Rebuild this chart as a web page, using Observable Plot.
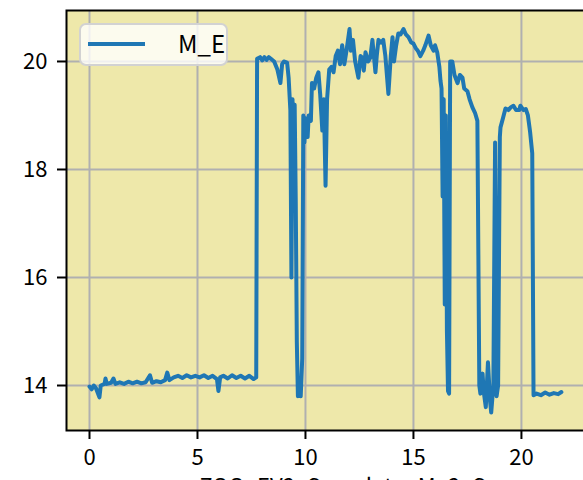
<!DOCTYPE html>
<html><head><meta charset="utf-8">
<script src="https://cdn.jsdelivr.net/npm/d3@7"></script>
<script src="https://cdn.jsdelivr.net/npm/@observablehq/plot@0.6"></script>
<style>
html,body{margin:0;padding:0;overflow:hidden;background:#fff;}
#wrap{position:relative;width:583px;height:480px;overflow:hidden;}
#wrap svg{position:absolute;left:0;top:0;max-width:none !important;}
#legend{position:absolute;left:79px;top:23px;width:149px;height:43px;box-sizing:border-box;border:2px solid #d2d2d2;border-radius:7px;background:rgba(255,255,255,0.8);}
#legend .ln{position:absolute;left:7px;top:17px;width:57px;height:3.5px;background:#1f77b4;}
#legend .tx{position:absolute;left:97px;top:4px;font-family:"Noto Sans CJK JP",sans-serif;font-size:24px;line-height:28px;color:#000;}
</style></head>
<body><div id="wrap"></div>
<script>
const xs = [0.00,0.10,0.20,0.30,0.46,0.52,0.70,0.74,0.80,1.00,1.11,1.20,1.40,1.60,1.80,2.00,2.20,2.40,2.60,2.80,2.90,3.10,3.30,3.50,3.60,3.70,3.90,4.10,4.30,4.50,4.70,4.90,5.10,5.30,5.50,5.70,5.90,5.97,6.05,6.20,6.40,6.60,6.80,7.00,7.20,7.40,7.60,7.72,
7.76,7.90,8.00,8.10,8.20,8.30,8.40,8.55,8.70,8.84,8.92,9.00,9.15,9.22,9.30,9.35,9.40,9.45,9.50,9.55,9.60,9.65,9.72,9.78,9.85,9.90,9.95,10.00,10.10,10.15,10.25,10.30,10.40,10.50,10.60,10.68,10.78,10.85,10.93,11.00,11.10,11.20,11.30,11.40,11.50,11.60,11.70,11.80,11.90,12.04,12.10,12.20,12.30,12.45,12.55,12.64,12.70,12.78,12.90,13.00,13.10,13.17,13.24,13.30,13.38,13.50,13.60,13.70,13.84,13.95,14.03,14.10,14.20,14.30,14.40,14.54,14.65,14.77,14.90,15.00,15.10,15.20,15.32,15.45,15.55,15.70,15.80,15.93,16.00,16.10,16.20,16.25,16.30,16.35,16.40,16.45,16.50,16.55,16.60,16.65,16.70,16.80,16.90,17.04,17.15,17.27,17.35,17.50,17.60,17.73,17.85,17.96,18.05,18.10,18.20,18.25,18.35,18.45,18.55,18.60,18.70,18.78,18.85,18.92,19.00,19.03,19.15,19.26,19.40,19.50,19.63,19.75,19.90,19.95,20.10,20.20,20.30,20.40,20.50,20.56,20.70,20.90,21.10,21.30,21.50,21.70,21.85];
const ys = [13.98,13.93,14.00,13.95,13.78,14.00,14.03,14.13,14.03,14.05,14.13,14.03,14.06,14.03,14.07,14.04,14.07,14.04,14.06,14.19,14.05,14.08,14.06,14.10,14.24,14.10,14.15,14.18,14.14,14.19,14.15,14.18,14.15,14.19,14.14,14.18,14.12,13.90,14.15,14.18,14.13,14.19,14.14,14.18,14.13,14.18,14.12,14.15,
20.05,20.08,20.02,20.08,20.03,20.08,20.05,20.00,19.85,19.60,19.95,20.00,19.98,19.70,19.10,16.00,19.30,18.20,19.20,17.40,14.80,13.80,14.00,13.80,14.50,19.00,18.50,18.95,18.60,19.00,18.90,19.60,19.50,19.70,19.80,19.40,18.72,19.30,17.70,19.30,19.85,19.90,19.80,20.10,20.20,19.95,20.30,19.95,20.20,20.60,20.20,20.40,20.00,19.70,20.10,20.07,19.83,20.17,20.00,20.07,20.40,20.10,19.80,20.10,20.40,20.35,20.40,20.10,19.40,20.10,20.45,20.00,20.30,20.52,20.50,20.60,20.50,20.45,20.35,20.33,20.25,20.20,20.10,20.20,20.30,20.48,20.30,20.20,20.30,20.17,19.90,19.65,19.50,17.50,19.30,15.50,19.00,15.00,13.90,13.85,20.00,20.00,19.75,19.60,19.75,19.70,19.50,19.45,19.30,19.15,19.05,18.90,14.00,13.85,14.22,13.90,13.60,14.43,13.70,13.50,14.00,18.50,13.80,14.00,18.60,18.78,18.96,19.13,19.10,19.15,19.18,19.10,19.10,19.18,19.10,19.12,19.00,18.70,18.30,13.82,13.85,13.82,13.87,13.83,13.86,13.84,13.88];
const xTicks = [0, 5, 10, 15, 20];
const yTicks = [14, 16, 18, 20];
const seriesName = "M_E";
const xLabel = "ZOO_EV2_Speed_to_M_2_S";

const data = xs.map((x, i) => ({x, y: ys[i]}));
const font = '"Noto Sans CJK JP", sans-serif';

const chart = Plot.plot({
  width: 590, height: 500,
  marginLeft: 66, marginRight: 6, marginTop: 10, marginBottom: 70,
  style: {background: "transparent", fontFamily: font, fontSize: "22px", color: "#000", maxWidth: "none"},
  x: {domain: [-1.065, 22.92]},
  y: {domain: [13.167, 20.944]},
  marks: [
    Plot.frame({fill: "palegoldenrod", stroke: null}),
    Plot.gridX(xTicks, {stroke: "#b0b0b0", strokeOpacity: 1, strokeWidth: 2}),
    Plot.gridY(yTicks, {stroke: "#b0b0b0", strokeOpacity: 1, strokeWidth: 2}),
    Plot.line(data, {x: "x", y: "y", stroke: "#1f77b4", strokeWidth: 4, strokeLinejoin: "round", strokeLinecap: "round"}),
    Plot.frame({stroke: "#000", strokeWidth: 2}),
    Plot.axisX(xTicks, {tickSize: 9, tickPadding: 10, strokeWidth: 2, fontSize: 22, label: null, tickFormat: d => String(d)}),
    Plot.axisY(yTicks, {tickSize: 9, tickPadding: 10, strokeWidth: 2, fontSize: 22, label: null, tickFormat: d => String(d)}),
    Plot.text([xLabel], {frameAnchor: "bottom", lineAnchor: "top", dy: 47.5, dx: 17, text: d => d, fontSize: 22})
  ]
});
const wrap = document.getElementById("wrap");
wrap.appendChild(chart);
const leg = document.createElement("div");
leg.id = "legend";
leg.innerHTML = '<div class="ln"></div><div class="tx"></div>';
leg.querySelector(".tx").textContent = seriesName;
wrap.appendChild(leg);
</script>
</body></html>
